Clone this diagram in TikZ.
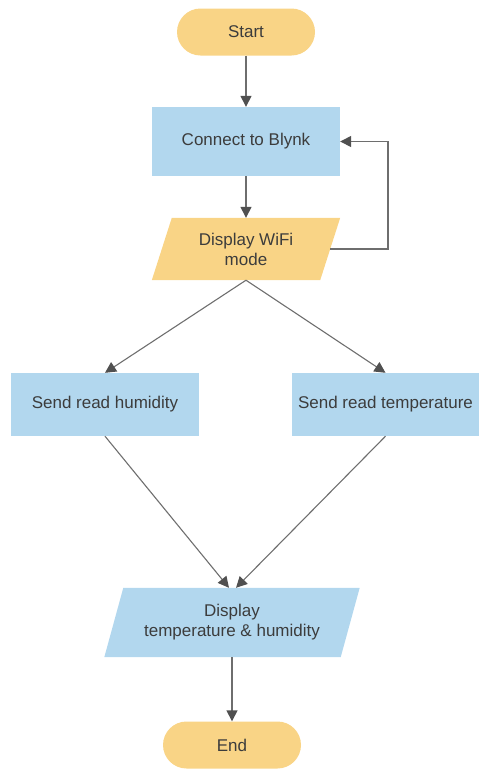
\documentclass[tikz,border=0pt]{standalone}
\usepackage{fontspec}
\setmainfont{Liberation Sans}
\usetikzlibrary{arrows.meta}
\definecolor{termfill}{HTML}{F9D486}
\definecolor{procfill}{HTML}{B2D7EE}
\definecolor{txtcol}{HTML}{3C3C3C}
\definecolor{linecol}{HTML}{6E6E6E}
\definecolor{tipcol}{HTML}{505050}
\begin{document}
\begin{tikzpicture}[x=1pt,y=-1pt,
  every node/.style={font=\fontsize{17}{20}\selectfont, text=txtcol, align=center, inner sep=0pt},
  term/.style={fill=termfill, rounded corners=23.5pt, minimum width=138pt, minimum height=47pt},
  proc/.style={fill=procfill, minimum width=188pt, minimum height=66pt},
  conn/.style={draw=linecol, line width=1.4pt, -{Triangle[length=11pt,width=11pt,color=tipcol]}},
  thin conn/.style={conn, line width=1.1pt}
]
\useasboundingbox (0,0) rectangle (479,769);

% Start
\node[term] (start) at (246,32) {Start};
% Connect to Blynk
\node[proc, minimum height=69pt] (blynk) at (246,141.5) {Connect to Blynk};
% Display WiFi mode (parallelogram)
\node[minimum width=168pt, minimum height=62pt] (wifi) at (246,249) {};
\fill[termfill] ([xshift=10pt]wifi.north west) -- ([xshift=10pt]wifi.north east)
  -- ([xshift=-10pt]wifi.south east) -- ([xshift=-10pt]wifi.south west) -- cycle;
\node at (wifi.center) {Display WiFi\\mode};
% Send read humidity / temperature
\node[proc, minimum height=63pt] (hum) at (105,404.5) {Send read humidity};
\node[proc, minimum width=187pt, minimum height=63pt] (temp) at (385.5,404.5) {Send read temperature};
% Display temperature & humidity (parallelogram)
\node[minimum width=236pt, minimum height=69pt] (disp) at (232,622.5) {};
\fill[procfill] ([xshift=9.5pt]disp.north west) -- ([xshift=9.5pt]disp.north east)
  -- ([xshift=-9.5pt]disp.south east) -- ([xshift=-9.5pt]disp.south west) -- cycle;
\node at (disp.center) {Display\\temperature \& humidity};
% End
\node[term] (end) at (232,745) {End};

% connectors
\draw[conn] (start) -- (blynk);
\draw[conn] (blynk) -- (wifi);
\coordinate (loopA) at (388,249);
\coordinate (loopB) at (388,141.5);
\draw[conn] (wifi.east) -- (loopA) -- (loopB) -- (blynk.east);
\draw[thin conn] (wifi.south) -- (hum.north);
\draw[thin conn] (wifi.south) -- (temp.north);
\draw[thin conn] (hum.south) -- ([xshift=-3pt]disp.north);
\draw[thin conn] (temp.south) -- ([xshift=4pt]disp.north);
\draw[conn] (disp) -- (end);
\end{tikzpicture}
\end{document}
